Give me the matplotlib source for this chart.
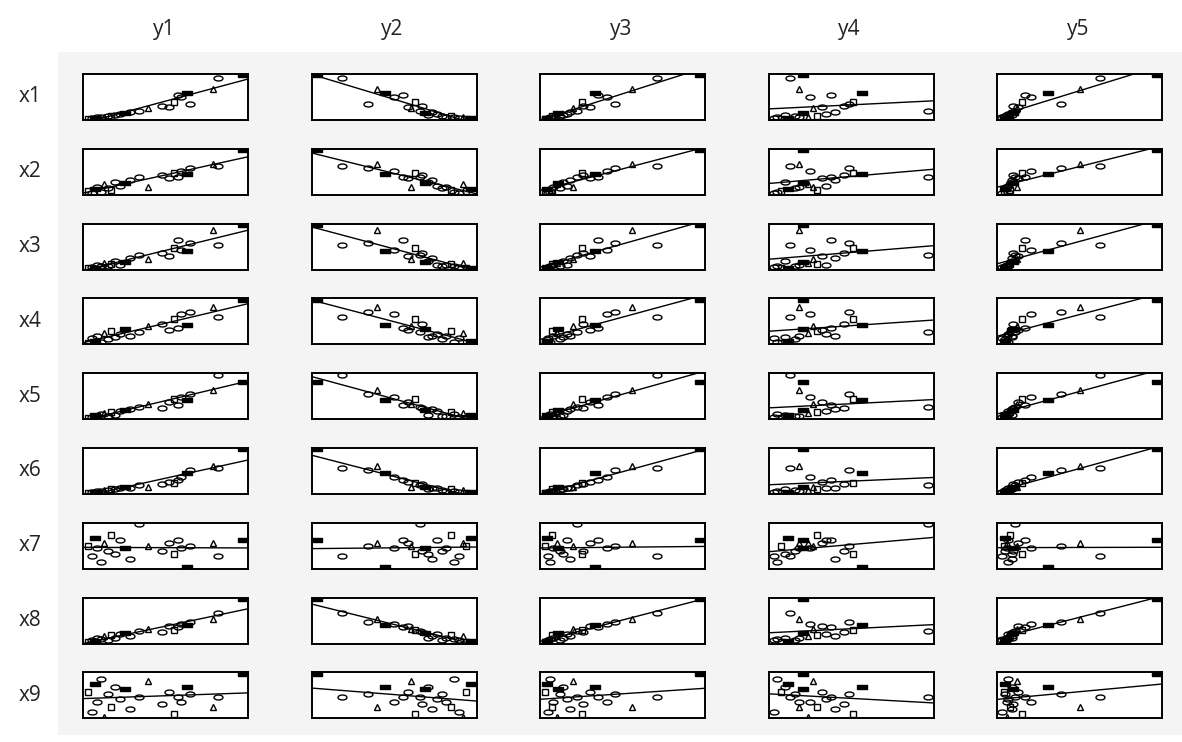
import numpy as np
import matplotlib
matplotlib.use('Agg')
import matplotlib.pyplot as plt
from matplotlib.path import Path

plt.rcParams['font.family'] = ['Open Sans', 'DejaVu Sans']

# column variables (horizontal axis of each cell)
y1 = [4, 6, 8, 9, 11, 13, 15, 17, 19, 22, 25, 28, 33, 38, 46, 50, 53, 55, 57, 60, 62, 75, 78, 92]
y2 = [92, 88, 95, 80, 85, 90, 78, 83, 70, 75, 68, 72, 65, 60, 66, 58, 62, 55, 50, 45, 35, 40, 20, 5]
y3 = [3, 5, 4, 8, 6, 10, 12, 7, 14, 16, 11, 18, 22, 20, 26, 30, 25, 35, 40, 33, 45, 55, 70, 96]
y4 = [10, 6, 14, 20, 8, 25, 18, 30, 12, 35, 22, 40, 92, 28, 45, 33, 50, 38, 26, 55, 48, 20, 15, 22]
y5 = [3, 2, 4, 5, 6, 5, 4, 7, 8, 6, 9, 8, 10, 11, 9, 12, 14, 16, 20, 30, 38, 50, 62, 97]

# row variables (vertical axis of each cell)
x1 = [2, 3, 4, 5, 6, 6, 8, 9, 10, 12, 14, 18, 20, 25, 30, 28, 40, 55, 50, 60, 35, 70, 95, 100]
x2 = [10, 5, 15, 20, 8, 25, 18, 12, 30, 22, 28, 35, 40, 20, 45, 38, 50, 42, 55, 48, 60, 70, 65, 100]
x3 = [5, 8, 6, 12, 10, 15, 9, 14, 20, 11, 18, 25, 30, 22, 35, 28, 45, 60, 40, 38, 55, 80, 50, 90]
x4 = [10, 20, 15, 25, 12, 30, 18, 35, 22, 28, 40, 24, 32, 45, 50, 38, 60, 42, 70, 48, 75, 85, 65, 100]
x5 = [3, 5, 8, 6, 10, 12, 7, 14, 9, 16, 18, 20, 25, 30, 22, 35, 40, 28, 45, 38, 50, 60, 90, 75]
x6 = [2, 4, 3, 6, 5, 8, 7, 10, 9, 12, 15, 11, 18, 14, 20, 25, 22, 30, 35, 45, 50, 60, 55, 95]
x7 = [50, 30, 65, 45, 20, 55, 40, 70, 35, 60, 45, 25, 90, 50, 40, 55, 35, 60, 45, 10, 50, 55, 30, 60]
x8 = [5, 10, 8, 15, 12, 18, 10, 20, 14, 22, 25, 18, 30, 35, 28, 40, 32, 38, 45, 42, 50, 55, 70, 100]
x9 = [60, 20, 75, 40, 85, 10, 55, 30, 70, 45, 65, 25, 50, 80, 35, 60, 15, 50, 40, 70, 55, 30, 50, 95]

# symbol kind of each observation: o ellipse, s square, f filled box, t triangle
kind = ['s', 'o', 'f', 'o', 'o', 't', 'o', 's', 'o', 'o', 'f', 'o',
        'o', 't', 'o', 'o', 's', 'o', 'o', 'f', 'o', 't', 'o', 'f']

col_names = ['y1', 'y2', 'y3', 'y4', 'y5']
row_names = ['x1', 'x2', 'x3', 'x4', 'x5', 'x6', 'x7', 'x8', 'x9']
cols = [y1, y2, y3, y4, y5]
rows = [x1, x2, x3, x4, x5, x6, x7, x8, x9]

t = np.linspace(0, 2 * np.pi, 25)
ellipse = Path(np.column_stack([np.cos(t), 0.55 * np.sin(t)]))
box = Path([(-1, -0.5), (1, -0.5), (1, 0.5), (-1, 0.5), (-1, -0.5)])
markers = {'o': (ellipse, 'none', 6.5),
           's': ('s', 'none', 4.5),
           'f': (box, 'black', 6.5),
           't': ('^', 'none', 4.5)}

W, H = 1182, 742
fig = plt.figure(figsize=(W / 100, H / 100), dpi=100)

# light grey panel behind the grid
bg = fig.add_axes([58 / W, 1 - 735 / H, (W - 58) / W, (735 - 52) / H], zorder=-1)
bg.set_facecolor('#f4f4f4')
bg.set_xticks([])
bg.set_yticks([])
for s in bg.spines.values():
    s.set_visible(False)

kind = np.array(kind)
for i, xv in enumerate(rows):
    for j, yv in enumerate(cols):
        left = 83 + 228.5 * j
        top = 74 + 74.8 * i
        ax = fig.add_axes([left / W, 1 - (top + 46) / H, 165 / W, 46 / H])
        hx = np.array(yv, dtype=float)
        vy = np.array(xv, dtype=float)
        for k, (m, fc, ms) in markers.items():
            sel = kind == k
            ax.plot(hx[sel], vy[sel], linestyle='none', marker=m, markersize=ms,
                    markerfacecolor=fc, markeredgecolor='black', markeredgewidth=1.0)
        b, a = np.polyfit(hx, vy, 1)
        lo, hi = hx.min() - 3, hx.max() + 3
        ax.plot([lo, hi], [a + b * lo, a + b * hi], color='black', lw=1.0)
        ax.set_xlim(lo, hi)
        ax.set_ylim(vy.min() - 3, vy.max() + 3)
        ax.set_xticks([])
        ax.set_yticks([])
        for s in ax.spines.values():
            s.set_linewidth(1.4)
        if i == 0:
            fig.text((left + 81) / W, 1 - 30 / H, col_names[j], ha='center', va='center',
                     fontsize=15, color='#222222')
        if j == 0:
            fig.text(30 / W, 1 - (top + 23) / H, row_names[i], ha='center', va='center',
                     fontsize=15, color='#222222')

fig.savefig('out.png', dpi=100)
